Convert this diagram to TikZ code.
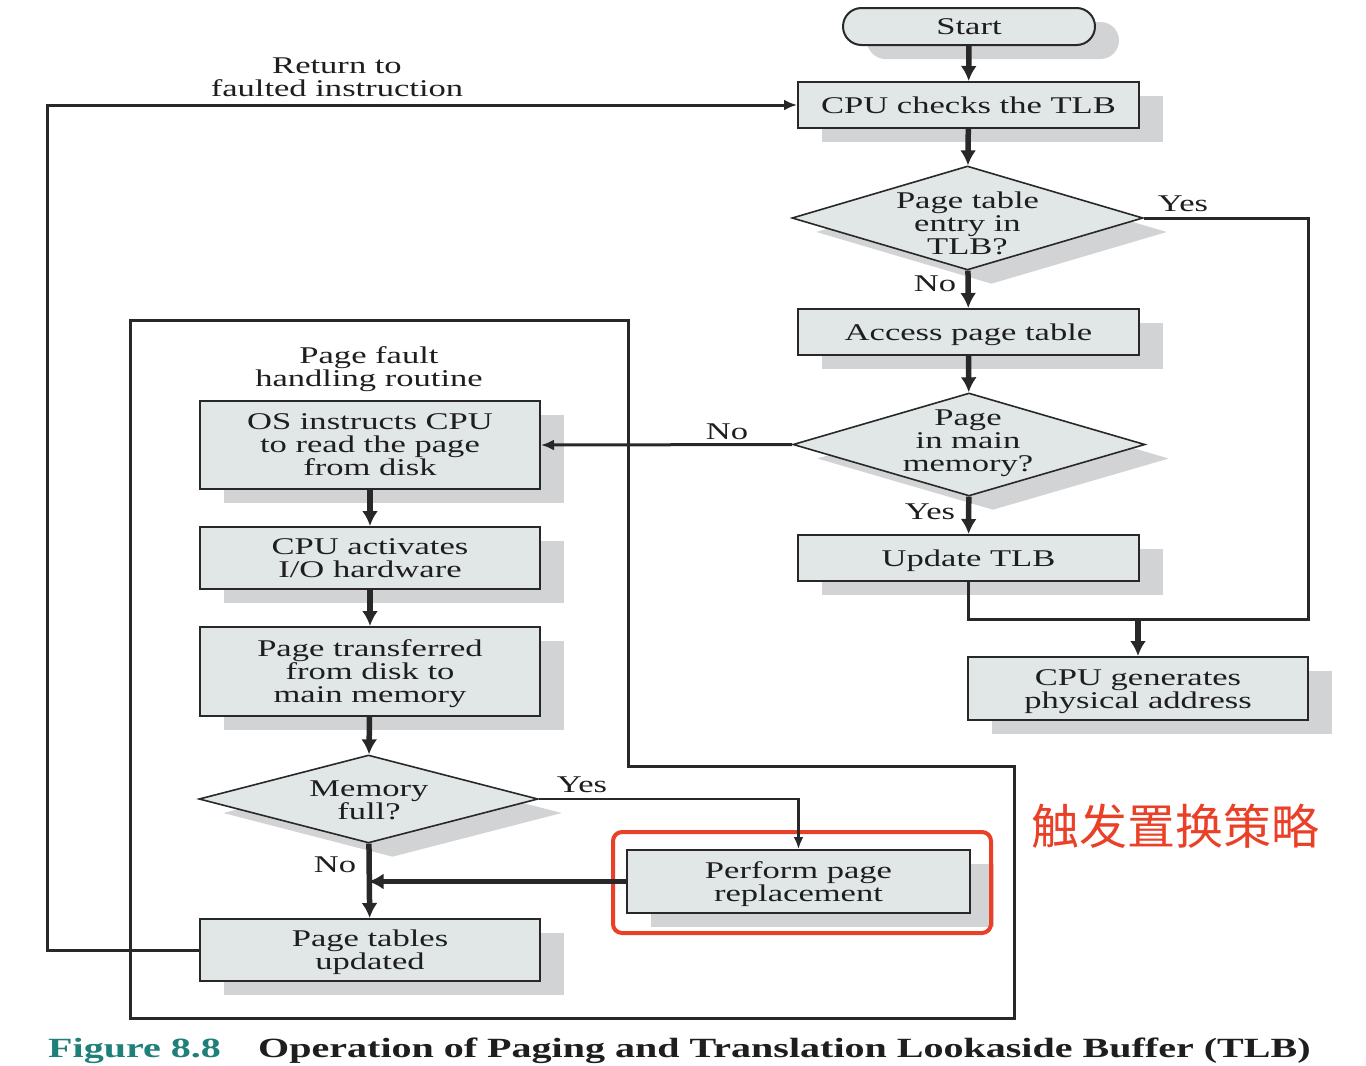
\documentclass[tikz,border=0pt]{standalone}
\usepackage{fontspec}
\setmainfont{Liberation Serif}[FakeStretch=1.44]
\newfontfamily\cjkfont{Noto Sans CJK SC}
\usetikzlibrary{shapes.geometric,arrows.meta,shadows}
\definecolor{boxfill}{RGB}{225,230,230}
\definecolor{shgray}{RGB}{210,211,213}
\definecolor{bord}{RGB}{40,40,40}
\definecolor{txt}{RGB}{30,30,30}
\definecolor{teal8}{RGB}{31,128,122}
\definecolor{hlred}{RGB}{234,64,40}
\newcommand\bodyfs{\fontsize{24}{23}\selectfont}
\tikzset{
  shade box/.style={drop shadow={shadow xshift=24pt,shadow yshift=-14pt,fill=shgray,opacity=1}},
  box/.style={draw=bord,line width=2pt,fill=boxfill,inner sep=0pt,align=center,
    font=\bodyfs,text=txt,shade box},
  one line/.style={text height=20pt,text depth=4pt},
  two lines/.style={text height=43pt,text depth=4pt},
  three lines/.style={text height=65pt,text depth=4pt},
  dia/.style={diamond,draw=bord,line width=1.6pt,fill=boxfill,inner sep=0pt,shade box},
  lbl/.style={font=\bodyfs,text=txt,align=center,inner sep=0pt},
  thick arrow/.style={draw=bord,line width=5.5pt,-{Latex[length=15pt,width=16pt]}},
  thin arrow/.style={draw=bord,line width=3pt,-{Latex[length=13pt,width=11pt]}},
  plain line/.style={draw=bord,line width=3pt},
}
\begin{document}
\begin{tikzpicture}[x=1pt,y=-1pt]
\useasboundingbox[fill=white] (0,0) rectangle (1366,1066);

% page fault region outline
\draw[bord,line width=3pt] (130,320) -- (628,320) -- (628,766) -- (1014,766) -- (1014,1018) -- (130,1018) -- cycle;

% right column
\node[box,one line,rounded corners=18.5pt,minimum width=252pt,minimum height=37pt] (start) at (969,26.5) {Start};
\node[box,one line,minimum width=341pt,minimum height=46pt] (cpu) at (968.5,105) {CPU checks the TLB};
\node[dia,minimum width=351pt,minimum height=104pt] (d1) at (967.5,218) {};
\node[lbl] (d1t) at (967.5,223) {Page table\\entry in\\TLB?};
\node[box,one line,minimum width=341pt,minimum height=46pt] (access) at (968.5,332) {Access page table};
\node[dia,minimum width=352pt,minimum height=103pt] (d2) at (969,444.5) {};
\node[lbl] (d2t) at (968,443) {Page\\in main\\memory?};
\node[box,one line,minimum width=341pt,minimum height=46pt] (update) at (968.5,558) {Update TLB};
\node[box,two lines,minimum width=340pt,minimum height=63pt] (gen) at (1138,688.5) {CPU generates\\physical address};

% left column
\node[box,three lines,minimum width=340pt,minimum height=88pt] (os) at (370,445) {OS instructs CPU\\to read the page\\from disk};
\node[box,two lines,minimum width=340pt,minimum height=62pt] (act) at (370,558) {CPU activates\\I/O hardware};
\node[box,three lines,minimum width=340pt,minimum height=89pt] (trans) at (370,671.5) {Page transferred\\from disk to\\main memory};
\node[dia,minimum width=339pt,minimum height=88pt] (mf) at (368.5,799) {};
\node[lbl] (mft) at (369,800.5) {Memory\\full?};
\node[box,two lines,minimum width=343pt,minimum height=63pt] (perf) at (798.5,881.5) {Perform page\\replacement};
\node[box,two lines,minimum width=340pt,minimum height=62pt] (pt) at (370,950) {Page tables\\updated};

% highlight
\draw[hlred,line width=4pt,rounded corners=9pt] (613,832) rectangle (991,933);
\node[font=\cjkfont\fontsize{48}{52}\selectfont,text=hlred,inner sep=0pt] (cn) at (1175,826) {触发置换策略};

% labels
\node[lbl] (ret) at (337,77) {Return to\\faulted instruction};
\node[lbl] (pfh) at (369,369) {Page fault\\handling routine};
\node[lbl] (y1) at (1183,204) {Yes};
\node[lbl] (n1) at (935,284) {No};
\node[lbl] (n2) at (727,432) {No};
\node[lbl] (y2) at (930,512) {Yes};
\node[lbl] (y3) at (582,785) {Yes};
\node[lbl] (n3) at (335,865) {No};

% coordinates
\coordinate (rc) at (1308,619);
\coordinate (lc) at (47,950);

% connectors
\draw[thick arrow] (start) -- (cpu);
\draw[thick arrow] (cpu) -- (d1);
\draw[thick arrow] (d1) -- (access);
\draw[thick arrow] (access) -- (d2);
\draw[thick arrow] (d2) -- (update);
\draw[thin arrow] (d2.west) -- (os.east);
\draw[plain line] (d1.east) -| (rc) -| (update.south);
\draw[thick arrow] (gen.north |- rc) -- (gen.north);
\draw[thick arrow] (os) -- (act);
\draw[thick arrow] (act) -- (trans);
\draw[thick arrow] (trans) -- (mf);
\draw[draw=bord,line width=2.6pt,-{Latex[length=12pt,width=10pt]}] (mf.east) -| (perf.north);
\draw[thick arrow] (perf.west) -- (mf.south |- perf.west);
\draw[thick arrow] (mf) -- (pt);
\draw[thin arrow] (pt.west) -- (lc) |- (cpu.west);

% caption
\node[anchor=base west,inner sep=0pt,font=\bfseries\fontsize{27.8}{30}\selectfont,text=teal8] (fig) at (48,1057) {Figure 8.8};
\node[anchor=base west,inner sep=0pt,font=\bfseries\fontsize{27.8}{30}\selectfont,text=txt] (cap) at (258,1057) {Operation of Paging and Translation Lookaside Buffer (TLB)};
\end{tikzpicture}
\end{document}
